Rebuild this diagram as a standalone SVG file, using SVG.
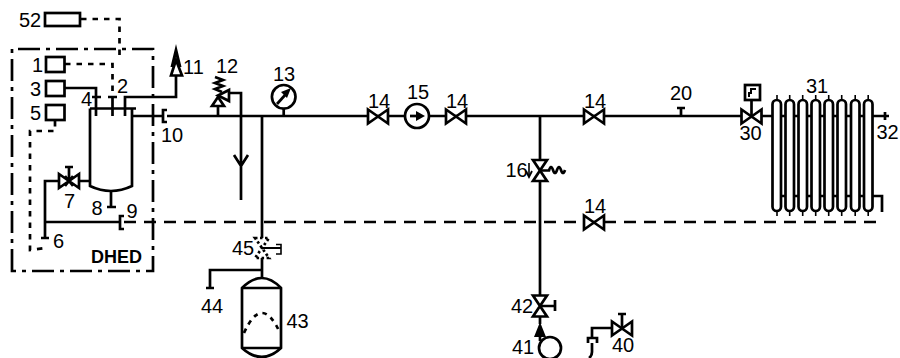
<svg xmlns="http://www.w3.org/2000/svg" width="900" height="358" viewBox="0 0 900 358">
<style>
.l{fill:none;stroke:#000;stroke-width:2.7}
.t{fill:none;stroke:#000;stroke-width:1.6}
.d{fill:none;stroke:#000;stroke-width:2.7;stroke-dasharray:5.500 6}
.f{fill:none;stroke:#000;stroke-width:2.7;stroke-dasharray:12 8}
.dd{fill:none;stroke:#000;stroke-width:2.7;stroke-dasharray:22 6 4 6}
.w{fill:#fff;stroke:#000;stroke-width:2.7}
.k{fill:#000;stroke:none}
text{font-family:"Liberation Sans",Arial,sans-serif;font-size:20px;fill:#000}
</style>
<defs>
<g id="v"><path class="w" d="M-10,-7V7L10,-7V7Z"/></g>
<g id="vv"><path class="w" d="M-7,-10.500H7L-7,10.500H7Z"/></g>
</defs>
<g id="connectors">
<path class="d" d="M81,19H119.500V55"/>
<path class="dd" d="M12,271V49H153V271Z"/>
<path class="d" d="M65,64H112.500V97"/>
<path class="l" d="M65,88H96V116M92,97H101"/>
<path class="l" d="M108,97H117M112.500,97V116"/>
<path class="l" d="M125,116V97H176V75"/>
<path class="d" d="M55,121V131H30V250L45,248"/>
<path class="l" d="M132,116H163M167,116H889"/>
<path class="l" d="M59,181H45V238M41,238H49M45,222H120M79,181H90"/>
<path class="l" d="M124,216H120V229H124"/>
<path class="f" d="M124,222H882"/>
<path class="l" d="M111,191V208M107,207H116"/>
<path class="l" d="M218,116V106M229,93H241V200M234,155L241,166L248,155"/>
<path class="l" d="M262,116V238M262,258V278M262,270H210V288M206,288H214"/>
<path class="l" d="M283.700,108V116"/>
<path class="l" d="M540,116V296M540,317V324"/>
<path class="l" d="M612,328H592V338"/>
<path class="l" d="M885,112V120"/>
</g>
<g id="n52"><rect class="l" x="45" y="13" width="35" height="13"/><text x="19" y="26.500">52</text></g>
<g id="n1"><rect class="l" x="46" y="57" width="18.500" height="15"/><text x="32" y="71.500">1</text></g>
<g id="n3"><rect class="l" x="46" y="81" width="18.500" height="15"/><text x="30" y="95.500">3</text></g>
<g id="n5"><rect class="l" x="46" y="105" width="18.500" height="15"/><text x="30" y="119.500">5</text></g>
<g id="n2"><text x="117" y="92.500">2</text></g>
<g id="n4"><text x="81" y="106">4</text></g>
<g id="vessel"><path class="l" d="M90,108.500V186Q111,196 132,186V108.500M90,108.500H136"/></g>
<g id="n6"><text x="53" y="248">6</text></g>
<g id="n7"><use href="#v" x="69" y="181"/><path class="l" d="M69,181V167M65,167H73M65,176L73,186M73,176L65,186"/><text x="64" y="208">7</text></g>
<g id="n8"><text x="91.500" y="214.500">8</text></g>
<g id="n9"><text x="126.500" y="218">9</text></g>
<g id="n10"><path class="l" d="M167,110H163V122H167"/><text x="161" y="141.500">10</text></g>
<g id="n11"><path class="w" d="M176,60L171,75.500H182Z"/><path class="k" d="M176,44L170.500,67L173,67L176,57L179,67L181.500,67Z"/><text x="183" y="74">11</text></g>
<g id="n12"><path class="w" d="M218,97L212,106H224Z"/><path class="w" d="M218,95.500L229,90V101Z"/><path class="l" d="M215,77L223,80L215,83L223,86L215,89L222,92"/><text x="216" y="73">12</text></g>
<g id="n13"><circle class="w" cx="283.700" cy="96.800" r="11.800"/><path class="l" d="M277,104L286,94"/><path class="k" d="M291,88L281,92L287,98Z"/><text x="273" y="80.500">13</text></g>
<g id="n14a"><use href="#v" x="378" y="116.500"/><text x="368" y="108">14</text></g>
<g id="n15"><circle class="w" cx="417" cy="116" r="12"/><path class="l" d="M410,116H420"/><path class="k" d="M425,116L416,111V121Z"/><text x="407" y="99">15</text></g>
<g id="n14b"><use href="#v" x="456" y="116.500"/><text x="446" y="108">14</text></g>
<g id="n14c"><use href="#v" x="594" y="116.500"/><text x="584" y="108">14</text></g>
<g id="n14d"><use href="#v" x="594" y="222.500"/><text x="584" y="212.500">14</text></g>
<g id="n16"><use href="#vv" x="540" y="170.500"/><path class="l" d="M540,170.500H549Q551,164 553,170T557,170T561,170T565,170"/><path class="t" d="M529,163V176"/><path class="l" d="M526,171L529,177L532,171" style="stroke-width:1.800"/><text x="505.500" y="176.500">16</text></g>
<g id="n20"><path class="l" d="M681,116V108M677,108H685"/><text x="670" y="100">20</text></g>
<g id="n30"><use href="#v" x="751.500" y="116.500"/><path class="l" d="M751.500,116V100"/><rect class="l" x="745" y="85" width="15" height="15"/><path class="l" d="M756,89H751V93H749V97" style="stroke-width:2"/><text x="739.500" y="140">30</text></g>
<g id="n31">
<rect class="w" x="772.500" y="100" width="8.500" height="111" rx="4.250"/><rect class="w" x="785.500" y="100" width="8.500" height="111" rx="4.250"/><rect class="w" x="798.500" y="100" width="8.500" height="111" rx="4.250"/><rect class="w" x="811.500" y="100" width="8.500" height="111" rx="4.250"/><rect class="w" x="824.500" y="100" width="8.500" height="111" rx="4.250"/><rect class="w" x="837.500" y="100" width="8.500" height="111" rx="4.250"/><rect class="w" x="851" y="100" width="8.500" height="111" rx="4.250"/><rect class="w" x="864" y="100" width="8.500" height="111" rx="4.250"/>
<path class="l" d="M781,196H785.500M794,196H798.500M807,196H811.500M820,196H824.500M833,196H837.500M846,196H851M859.500,196H864M872.500,196H882V212"/>
<path class="t" d="M777,95V100M789.700,95V100M802.700,95V100M815.700,95V100M828.700,95V100M841.700,95V100M855.200,95V100M868.200,95V100M777,211V216M789.700,211V216M802.700,211V216M815.700,211V216M828.700,211V216M841.700,211V216M855.200,211V216M868.200,211V216"/>
<text x="806" y="92.500">31</text></g>
<g id="n32"><text x="876.500" y="139">32</text></g>
<g id="n40"><use href="#v" x="622" y="328.500"/><path class="l" d="M622,328V314M618,314H626"/><path class="l" d="M588,343V338H597V343M592,343V352Q592,356 589,358"/><text x="612" y="352">40</text></g>
<g id="n41"><circle class="w" cx="550" cy="348" r="11"/><path class="k" d="M540,322L534,337H546Z"/><path class="l" d="M540,335V341"/><text x="512" y="353.500">41</text></g>
<g id="n42"><use href="#vv" x="540" y="306"/><path class="l" d="M540,306H555M555,300V311"/><text x="511" y="313">42</text></g>
<g id="n43"><path class="l" d="M242,288Q262,268 281,288V348Q262,366 242,348Z"/><path class="l" d="M242,288H281M242,348H281"/><path class="d" d="M244,333Q262,293 280,333" style="stroke-dasharray:4.500 5"/><text x="286.500" y="327.500">43</text></g>
<g id="n44"><text x="201" y="313">44</text></g>
<g id="n45"><path class="d" style="stroke-dasharray:2.500 2.500" d="M255,238H269L255,258H269Z"/><path class="l" d="M262,248H281" style="stroke-width:2"/><path class="t" d="M276,244.500H281V254H276"/><text x="232" y="255">45</text></g>
<g id="dhed"><text x="91" y="263" style="font-weight:bold;font-size:18px">DHED</text></g>
</svg>
